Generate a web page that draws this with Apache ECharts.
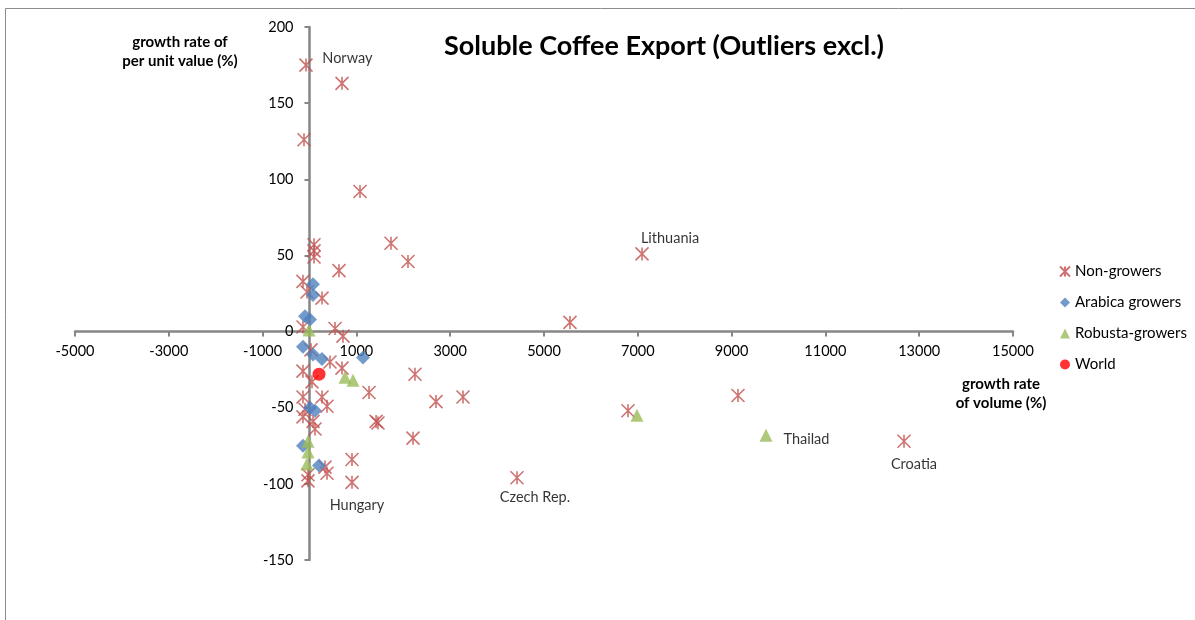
<!DOCTYPE html>
<html>
<head>
<meta charset="utf-8">
<script src="https://cdn.jsdelivr.net/npm/echarts@6/dist/echarts.min.js"></script>
<style>html,body{margin:0;padding:0;background:#fff;}#c{width:1195px;height:620px;}</style>
</head>
<body>
<div id="c"></div>
<script>
// growth rate of volume (%), growth rate of per unit value (%)
const nonGrowers = [
  [-75,175],[693,163],[-117,126],[1077,92],[1738,58],[96,57],[96,53],[96,49],[2100,46],[629,40],
  [7090,51],[-139,33],[-53,26],[267,22],[5554,6],[-139,3],[544,2],[714,-3],[32,-12],[437,-20],
  [693,-24],[-139,-26],[53,-33],[2249,-28],[1269,-40],[2697,-46],[3273,-43],[-139,-43],[267,-43],[373,-49],
  [-96,-51],[-139,-56],[75,-59],[117,-64],[1420,-59],[1460,-60],[2207,-70],[6791,-52],[9136,-42],[906,-84],
  [906,-99],[330,-89],[373,-93],[-32,-94],[-32,-98],[4424,-96],[12676,-72]
];
const arabica = [
  [75,31],[75,24],[-96,10],[11,8],[-139,-10],[75,-15],[267,-18],[1141,-17],[11,-50],[117,-52],[-139,-75],[203,-88]
];
const robusta = [
  [-10,1],[757,-30],[928,-32],[-32,-72],[-32,-79],[-53,-87],[6983,-55],[9733,-68]
];
const world = [[203,-28]];
const seriesNames = ['Non-growers','Arabica growers','Robusta-growers','World'];
const xTicks = {min:-5000, max:15000, interval:2000};
const yTicks = {min:-150, max:200, interval:50};
// labelled points: [series index, point index, name]
const pointLabels = [[0,0,'Norway'],[0,10,'Lithuania'],[0,40,'Hungary'],[0,45,'Czech Rep.'],[0,46,'Croatia'],[2,7,'Thailad']];
const titleText = 'Soluble Coffee Export (Outliers excl.)';
const yName = 'growth rate of\nper unit value (%)';
const xName = 'growth rate\nof volume (%)';

const FONT = 'Lato, "Open Sans", sans-serif';
const labelPlace = {
  'Norway': {position:'right', offset:[4,-7]},
  'Lithuania': {position:'top', offset:[28,4]},
  'Hungary': {position:'bottom', offset:[5,3]},
  'Czech Rep.': {position:'bottom', offset:[18,0]},
  'Croatia': {position:'bottom', offset:[10,3]},
  'Thailad': {position:'right', offset:[6,4]}
};
const raw = [nonGrowers, arabica, robusta, world];
const dataSets = raw.map(function(arr, si){
  return arr.map(function(p, pi){
    const lab = pointLabels.find(function(l){return l[0]===si && l[1]===pi;});
    if (!lab) return p;
    const pl = labelPlace[lab[2]];
    return {value:p, label:{show:true, formatter:lab[2], position:pl.position, offset:pl.offset,
      fontSize:14.5, color:'#000', fontFamily:FONT}};
  });
});
const asterisk = 'path://M0,0L10,10M0,10L10,0M5,0L5,10';
const axisColor = '#868686';

const GRID = {left:75, right:182, top:27, bottom:60};
const W = 1195, H = 620;
const gridW = W - GRID.left - GRID.right, gridH = H - GRID.top - GRID.bottom;
// place axes through the origin (offset from grid edge, computed through the axis range)
const xAxisOffset = -gridH * (0 - yTicks.min) / (yTicks.max - yTicks.min);
const yAxisOffset = -gridW * (0 - xTicks.min) / (xTicks.max - xTicks.min);

const chart = echarts.init(document.getElementById('c'));
chart.setOption({
  animation:false,
  backgroundColor:'#fff',
  grid:{left:GRID.left, right:GRID.right, top:GRID.top, bottom:GRID.bottom, containLabel:false},
  xAxis:{type:'value', min:xTicks.min, max:xTicks.max, interval:xTicks.interval, position:'bottom', offset:xAxisOffset,
    axisLine:{onZero:false, lineStyle:{color:axisColor, width:2.5}},
    axisTick:{show:true, length:5, lineStyle:{color:axisColor, width:2}},
    axisLabel:{fontSize:14.5, color:'#000', margin:12, fontFamily:FONT, formatter:function(v){return String(v);}},
    splitLine:{show:false}},
  yAxis:{type:'value', min:yTicks.min, max:yTicks.max, interval:yTicks.interval, position:'left', offset:yAxisOffset,
    axisLine:{onZero:false, lineStyle:{color:axisColor, width:2.5}},
    axisTick:{show:true, length:5, lineStyle:{color:axisColor, width:2}},
    axisLabel:{fontSize:14.5, color:'#000', margin:16, fontFamily:FONT, formatter:function(v){return String(v);}},
    splitLine:{show:false}},
  legend:{orient:'vertical', left:1054, top:259, itemWidth:10, itemHeight:10, itemGap:16,
    textStyle:{fontSize:15, color:'#000', fontFamily:FONT},
    data:[{name:seriesNames[0], icon:asterisk},{name:seriesNames[1], icon:'diamond'},
          {name:seriesNames[2], icon:'triangle'},{name:seriesNames[3], icon:'circle'}]},
  graphic:[
    {type:'rect', silent:true, shape:{x:5.5, y:8.5, width:1400, height:800}, style:{fill:'none', stroke:'#8c8c8c', lineWidth:1}},
    {type:'text', silent:true, style:{text:titleText, x:664, y:46, align:'center', verticalAlign:'middle', font:'bold 27px '+FONT, fill:'#000'}},
    {type:'text', silent:true, style:{text:yName, x:180, y:52, align:'center', verticalAlign:'middle', font:'bold 15px '+FONT, fill:'#000', lineHeight:19}},
    {type:'text', silent:true, style:{text:xName, x:1001, y:394, align:'center', verticalAlign:'middle', font:'bold 15px '+FONT, fill:'#000', lineHeight:19}}
  ],
  series:[
    {name:seriesNames[0], type:'scatter', symbol:asterisk, symbolSize:13, data:dataSets[0],
      itemStyle:{color:'rgba(0,0,0,0)', borderColor:'#C0504D', borderWidth:1.6}},
    {name:seriesNames[1], type:'scatter', symbol:'diamond', symbolSize:14, data:dataSets[1],
      itemStyle:{color:'#4F81BD'}},
    {name:seriesNames[2], type:'scatter', symbol:'triangle', symbolSize:13, data:dataSets[2],
      itemStyle:{color:'#9BBB59'}},
    {name:seriesNames[3], type:'scatter', symbol:'circle', symbolSize:13, data:dataSets[3],
      itemStyle:{color:'#FF0000'}}
  ]
});
</script>
</body>
</html>
